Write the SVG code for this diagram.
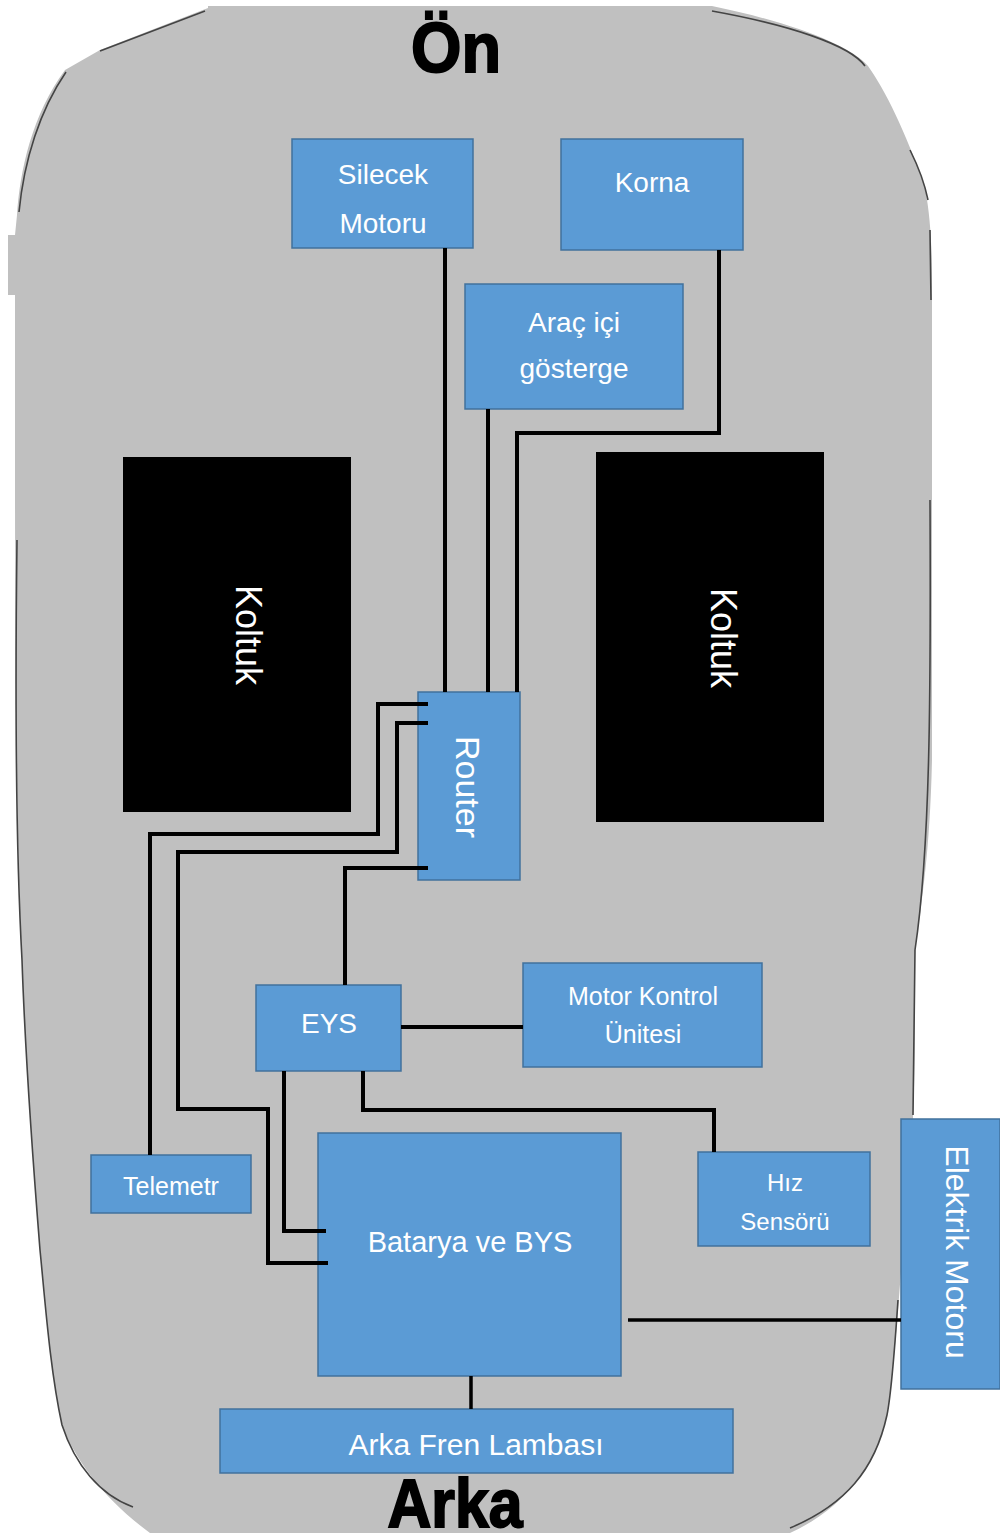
<svg xmlns="http://www.w3.org/2000/svg" width="1000" height="1537" viewBox="0 0 1000 1537">
<style>
.box{fill:#5B9BD5;stroke:#41719C;stroke-width:1.5}
.seat{fill:#000}
.lbl{font-family:"Liberation Sans",Arial,sans-serif;fill:#fff;text-anchor:middle}
.wire{fill:none;stroke:#000;stroke-width:4;stroke-linejoin:miter}
.edge{fill:none;stroke:#444;stroke-width:1.6}
.big{font-family:"Liberation Sans",Arial,sans-serif;font-weight:bold;fill:#000;stroke:#000;stroke-width:2;text-anchor:middle}
</style>
<rect width="1000" height="1537" fill="#fff"/>
<g id="body">
<path d="M208,6 L712,6 C790,22 850,45 868,66 C885,90 905,130 925,188 C931,220 932,250 932,290 L932,760 C930,850 922,900 915,950 C914,1000 916,1050 913,1117 L898,1310 C894,1360 890,1400 887,1415 C875,1470 840,1510 790,1533 L150,1533 C105,1500 75,1460 62,1425 C50,1370 45,1300 40,1250 C32,1150 25,1050 22,960 C17,850 15,700 15,460 L15,295 L8,295 L8,235 L15,235 L17,215 C20,170 32,115 65,70 L100,50 L208,8 Z" fill="#C0C0C0"/>
<path class="edge" d="M100,51 L205,11 M66,72 C40,110 24,160 19,212 M17,540 C15,700 16,850 22,960 C25,1050 32,1150 40,1250 C45,1300 50,1370 62,1425 C75,1465 100,1495 133,1507"/>
<path class="edge" d="M712,11 C790,25 850,45 865,66 M910,150 C920,170 925,185 928,200 M930,230 L931,300 M930,500 C931,700 930,850 915,950 L913,1115 M898,1300 C894,1360 890,1400 887,1415 C875,1470 845,1505 790,1528"/>
</g>
<g id="label-on"><text class="big" x="456" y="72" font-size="70" textLength="90" lengthAdjust="spacingAndGlyphs">Ön</text></g>
<g id="label-arka"><text class="big" x="455" y="1527" font-size="68" textLength="135" lengthAdjust="spacingAndGlyphs">Arka</text></g>
<g id="silecek"><rect class="box" x="292" y="139" width="181" height="109"/><text class="lbl" x="383" y="184" font-size="28">Silecek</text><text class="lbl" x="383" y="233" font-size="28">Motoru</text></g>
<g id="korna"><rect class="box" x="561" y="139" width="182" height="111"/><text class="lbl" x="652" y="192" font-size="28">Korna</text></g>
<g id="gosterge"><rect class="box" x="465" y="284" width="218" height="125"/><text class="lbl" x="574" y="332" font-size="28">Araç içi</text><text class="lbl" x="574" y="378" font-size="28">gösterge</text></g>
<g id="koltuk-sol"><rect class="seat" x="123" y="457" width="228" height="355"/><text class="lbl" transform="translate(248,635) rotate(90)" dominant-baseline="central" font-size="36">Koltuk</text></g>
<g id="koltuk-sag"><rect class="seat" x="596" y="452" width="228" height="370"/><text class="lbl" transform="translate(723,638) rotate(90)" dominant-baseline="central" font-size="36">Koltuk</text></g>
<g id="router"><rect class="box" x="418" y="692" width="102" height="188"/><text class="lbl" transform="translate(468,787) rotate(90)" dominant-baseline="central" font-size="34">Router</text></g>
<g id="eys"><rect class="box" x="256" y="985" width="145" height="86"/><text class="lbl" x="329" y="1033" font-size="28">EYS</text></g>
<g id="mku"><rect class="box" x="523" y="963" width="239" height="104"/><text class="lbl" x="643" y="1005" font-size="25">Motor Kontrol</text><text class="lbl" x="643" y="1043" font-size="25">Ünitesi</text></g>
<g id="telemetr"><rect class="box" x="91" y="1155" width="160" height="58"/><text class="lbl" x="171" y="1195" font-size="25">Telemetr</text></g>
<g id="batarya"><rect class="box" x="318" y="1133" width="303" height="243"/><text class="lbl" x="470" y="1252" font-size="29">Batarya ve BYS</text></g>
<g id="hiz"><rect class="box" x="698" y="1152" width="172" height="94"/><text class="lbl" x="785" y="1191" font-size="24">Hız</text><text class="lbl" x="785" y="1230" font-size="24">Sensörü</text></g>
<g id="elektrik-motoru"><rect class="box" x="901" y="1119" width="99" height="270"/><text class="lbl" transform="translate(957,1252) rotate(90)" dominant-baseline="central" font-size="32">Elektrik Motoru</text></g>
<g id="arka-fren"><rect class="box" x="220" y="1409" width="513" height="64"/><text class="lbl" x="476" y="1455" font-size="30">Arka Fren Lambası</text></g>
<g id="connectors">
<path class="wire" d="M445,248 V692"/>
<path class="wire" d="M488,409 V692"/>
<path class="wire" d="M719,250 V433 H517 V692"/>
<path class="wire" d="M428,704 H378 V834 H150 V1155"/>
<path class="wire" d="M428,723 H397 V852 H178 V1109 H268 V1263 H328"/>
<path class="wire" d="M428,868 H345 V985"/>
<path class="wire" d="M401,1027 H523"/>
<path class="wire" d="M284,1071 V1231 H326"/>
<path class="wire" d="M363,1071 V1110 H714 V1152"/>
<path class="wire" style="stroke-width:3.5" d="M628,1320 H901"/>
<path class="wire" style="stroke-width:3.5" d="M471,1376 V1409"/>
</g>
</svg>
